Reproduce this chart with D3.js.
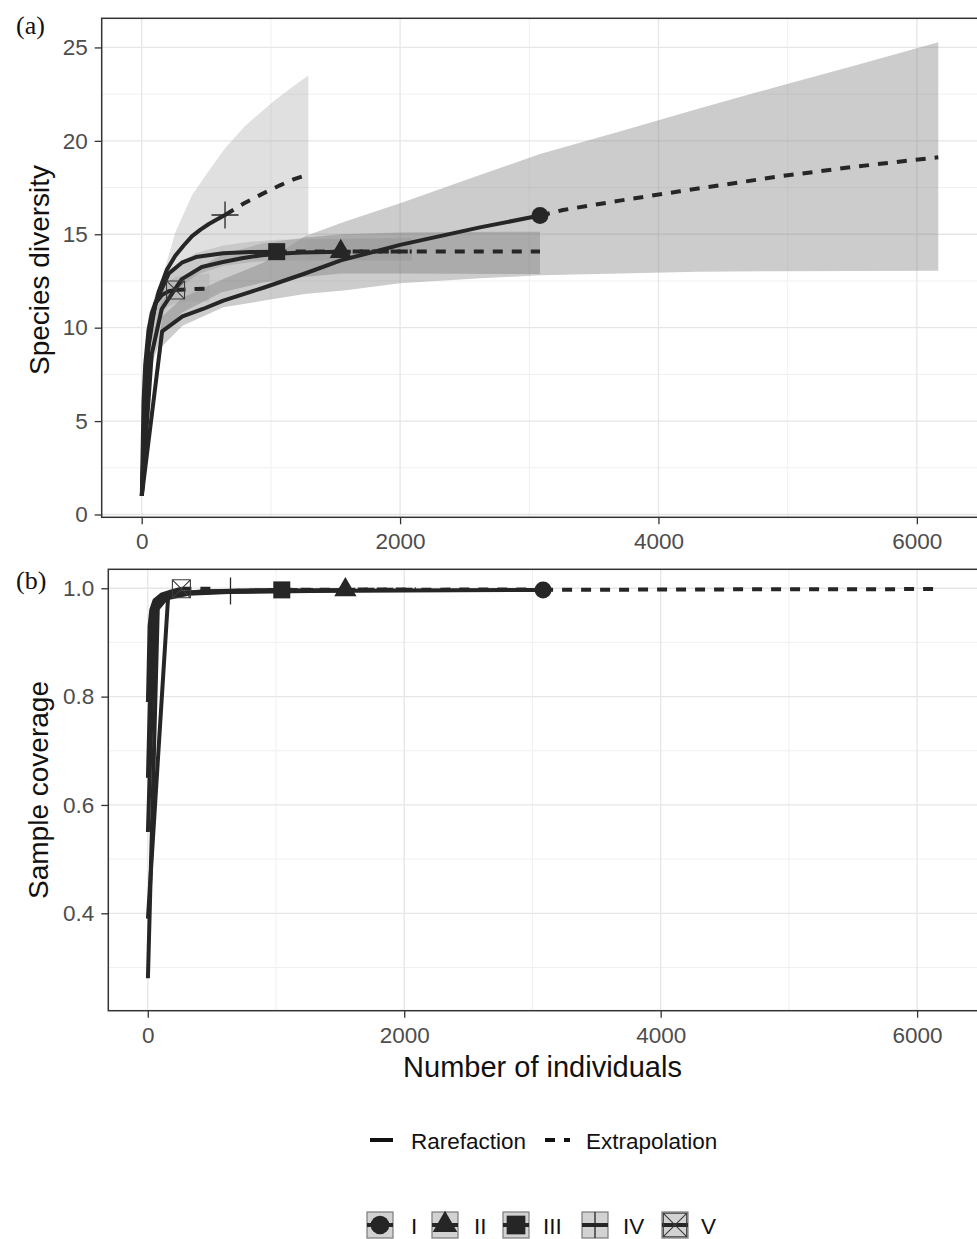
<!DOCTYPE html>
<html>
<head>
<meta charset="utf-8">
<script src="https://cdn.jsdelivr.net/npm/d3@7"></script>
<style>
  body { margin: 0; background: #fff; }
  svg { display: block; }
  text { font-family: "Liberation Sans", Arial, sans-serif; }
</style>
</head>
<body>
<svg id="chart" width="977" height="1239"></svg>
<script>
// ---- Assemblages -------------------------------------------------------
const assemblages = ["I", "II", "III", "IV", "V"];
const sampleSize  = [3083, 1541, 1045, 645, 262];
const observedS   = [16.0, 14.07, 14.07, 16.03, 12.02];
const observedC   = [0.997, 0.997, 0.997, 0.995, 0.999];

// ---- Species diversity: rarefaction [n, S] ----------------------------
const divRareI   = [[1,1],[158,9.8],[316,10.6],[474,11.0],[632,11.45],[948,12.15],[1264,12.9],[1541,13.6],[2000,14.43],[2618,15.37],[3083,16.0]];
const divRareII  = [[1,1],[78,8.6],[155,11.0],[310,12.6],[465,13.25],[620,13.5],[775,13.72],[930,13.88],[1085,13.97],[1240,14.02],[1541,14.07]];
const divRareIII = [[1,1],[53,9.0],[105,11.3],[210,12.9],[315,13.5],[420,13.78],[630,13.98],[840,14.05],[1045,14.07]];
const divRareIV  = [[1,1],[33,7.5],[65,10.0],[130,11.9],[195,13.1],[260,13.85],[325,14.4],[390,14.9],[455,15.25],[520,15.55],[585,15.8],[645,16.03]];
const divRareV   = [[1,1],[14,6.0],[27,8.0],[53,9.9],[79,10.8],[105,11.3],[157,11.75],[209,11.95],[262,12.02]];

// ---- Species diversity: extrapolation [n, S] --------------------------
const divExtI   = [[3083,16.0],[3261,16.3],[3700,16.8],[4166,17.3],[4917,18.08],[5500,18.6],[6166,19.12]];
const divExtII  = [[1541,14.07],[3083,14.08]];
const divExtIII = [[1045,14.07],[2090,14.08]];
const divExtIV  = [[645,16.03],[790,16.65],[930,17.15],[1070,17.62],[1180,17.95],[1290,18.2]];
const divExtV   = [[262,12.02],[524,12.1]];

// ---- Species diversity: 95% band [n, lower, upper] --------------------
const bandI   = [[1,1,1],[158,9.0,10.6],[316,10.1,11.6],[632,11.1,12.6],[948,11.45,13.5],[1264,11.8,14.9],[1580,12.0,15.7],[2000,12.38,16.66],[2618,12.64,18.17],[3083,12.8,19.3],[3700,12.9,20.5],[4300,13.0,21.7],[4917,13.02,22.9],[5500,13.04,24.0],[6166,13.05,25.28]];
const bandII  = [[1,1,1],[78,8.0,9.6],[155,9.6,11.4],[310,10.8,12.7],[620,11.9,13.9],[930,12.4,14.5],[1240,12.7,14.8],[1541,12.9,15.0],[2000,12.9,15.1],[2500,12.88,15.12],[3083,12.87,15.14]];
const bandIII = [[1,1,1],[53,8.5,10.0],[105,10.3,11.8],[210,11.6,13.1],[420,12.8,14.0],[630,13.3,14.4],[840,13.5,14.6],[1045,13.6,14.7],[1400,13.6,14.75],[1750,13.6,14.78],[2090,13.6,14.8]];
const bandIV  = [[1,1,1],[33,6.5,8.0],[65,8.5,10.2],[130,10.3,12.0],[260,11.9,15.1],[390,12.7,17.1],[520,13.2,18.4],[645,13.5,19.6],[800,13.6,20.8],[1000,13.6,22.0],[1150,13.6,22.8],[1290,13.5,23.5]];
const bandV   = [[1,1,1],[14,5.5,6.8],[27,7.5,8.8],[54,9.5,10.7],[108,10.6,11.8],[160,11.0,12.3],[262,11.3,12.7],[360,11.4,12.8],[440,11.4,12.85],[524,11.4,12.9]];

// ---- Sample coverage: rarefaction / extrapolation [n, C] --------------
const covRareI   = [[1,0.39],[158,0.982],[316,0.990],[632,0.993],[1264,0.995],[2000,0.996],[3083,0.997]];
const covRareII  = [[1,0.28],[78,0.962],[155,0.984],[310,0.991],[620,0.994],[1085,0.996],[1541,0.997]];
const covRareIII = [[1,0.55],[53,0.955],[105,0.98],[210,0.99],[420,0.994],[735,0.996],[1045,0.997]];
const covRareIV  = [[1,0.65],[33,0.95],[65,0.975],[130,0.986],[260,0.991],[455,0.994],[645,0.995]];
const covRareV   = [[1,0.79],[14,0.93],[27,0.96],[53,0.978],[105,0.988],[183,0.994],[262,0.999]];
const covExtI    = [[3083,0.997],[4600,0.998],[6166,0.9985]];
const covExtII   = [[1541,0.997],[3083,0.998]];
const covExtIII  = [[1045,0.997],[2090,0.998]];
const covExtIV   = [[645,0.995],[1290,0.997]];
const covExtV    = [[262,0.999],[524,0.999]];

// ---- Axis ticks -------------------------------------------------------
const xTicks      = [0, 2000, 4000, 6000];
const xMinorTicks = [1000, 3000, 5000];
const divTicks    = [0, 5, 10, 15, 20, 25];
const divMinor    = [2.5, 7.5, 12.5, 17.5, 22.5];
const covTicks    = [0.4, 0.6, 0.8, 1.0];
const covMinor    = [0.3, 0.5, 0.7, 0.9];
const lineTypes   = ["Rarefaction", "Extrapolation"];

const divRare = [divRareI, divRareII, divRareIII, divRareIV, divRareV];
const divExt  = [divExtI, divExtII, divExtIII, divExtIV, divExtV];
const bands   = [bandI, bandII, bandIII, bandIV, bandV];
const covRare = [covRareI, covRareII, covRareIII, covRareIV, covRareV];
const covExt  = [covExtI, covExtII, covExtIII, covExtIV, covExtV];

// ---- Styling ----------------------------------------------------------
const lineColor = "#262626";
const bandFill  = ["#808080", "#6e6e6e", "#8c8c8c", "#a6a6a6", "#9a9a9a"];
const bandAlpha = [0.40, 0.35, 0.30, 0.35, 0.30];
const dash = "10,9";
const shapes = ["circle", "triangle", "square", "plus", "squarecross"];

const svg = d3.select("#chart");

// marker drawing shared by panels and legend
function drawMarker(g, shape, cx, cy, scale = 1) {
  if (shape === "circle") {
    g.append("circle").attr("cx", cx).attr("cy", cy).attr("r", 8.5 * scale).attr("fill", lineColor);
  } else if (shape === "triangle") {
    g.append("path").attr("d", d3.symbol(d3.symbolTriangle, 215 * scale * scale)())
      .attr("transform", `translate(${cx},${cy})`).attr("fill", lineColor);
  } else if (shape === "square") {
    const s = 17 * scale;
    g.append("rect").attr("x", cx - s / 2).attr("y", cy - s / 2).attr("width", s).attr("height", s).attr("fill", lineColor);
  } else if (shape === "plus") {
    const h = 13.5 * scale;
    g.append("path").attr("d", `M${cx - h},${cy}H${cx + h}M${cx},${cy - h}V${cy + h}`)
      .attr("stroke", lineColor).attr("stroke-width", 1.3).attr("fill", "none");
  } else {
    const h = 9 * scale;
    g.append("path")
      .attr("d", `M${cx - h},${cy - h}H${cx + h}V${cy + h}H${cx - h}Z M${cx - h},${cy - h}L${cx + h},${cy + h}M${cx + h},${cy - h}L${cx - h},${cy + h}`)
      .attr("stroke", "#3a3a3a").attr("stroke-width", 1.1).attr("fill", "none");
  }
}

function panel(opts) {
  const { x, y, left, top, right, bottom, yTicks, yMinor, yFmt, clipId } = opts;
  const g = svg.append("g");

  // grid
  const grid = g.append("g");
  xMinorTicks.forEach(v => grid.append("line").attr("x1", x(v)).attr("x2", x(v)).attr("y1", top).attr("y2", bottom)
    .attr("stroke", "#f0f0f0").attr("stroke-width", 1));
  yMinor.forEach(v => grid.append("line").attr("x1", left).attr("x2", right).attr("y1", y(v)).attr("y2", y(v))
    .attr("stroke", "#f0f0f0").attr("stroke-width", 1));
  xTicks.forEach(v => grid.append("line").attr("x1", x(v)).attr("x2", x(v)).attr("y1", top).attr("y2", bottom)
    .attr("stroke", "#e6e6e6").attr("stroke-width", 1.3));
  yTicks.forEach(v => grid.append("line").attr("x1", left).attr("x2", right).attr("y1", y(v)).attr("y2", y(v))
    .attr("stroke", "#e6e6e6").attr("stroke-width", 1.3));

  svg.append("clipPath").attr("id", clipId).append("rect")
    .attr("x", left).attr("y", top).attr("width", right - left).attr("height", bottom - top);
  const plot = g.append("g").attr("clip-path", `url(#${clipId})`);

  // axes
  const ya = d3.axisLeft(y).tickValues(yTicks).tickSize(7).tickPadding(7).tickFormat(yFmt);
  const yg = g.append("g").attr("transform", `translate(${left},0)`).call(ya);
  const xa = d3.axisBottom(x).tickValues(xTicks).tickSize(7).tickPadding(9).tickFormat(d3.format("d"));
  const xg = g.append("g").attr("transform", `translate(0,${bottom})`).call(xa);
  [yg, xg].forEach(a => {
    a.select(".domain").remove();
    a.selectAll(".tick line").attr("stroke", "#333").attr("stroke-width", 1.3);
    a.selectAll(".tick text").attr("fill", "#4d4d4d").style("font-size", "22.5px")
      .style("font-family", '"Liberation Sans", Arial, sans-serif');
  });

  // border
  g.append("rect").attr("x", left).attr("y", top).attr("width", right - left).attr("height", bottom - top)
    .attr("fill", "none").attr("stroke", "#333").attr("stroke-width", 1.5);
  return plot;
}

// ---- Panel (a): species diversity --------------------------------------
const xA = d3.scaleLinear().domain([-309.6, 6471]).range([101.7, 977.7]);
const yA = d3.scaleLinear().domain([-0.15, 26.56]).range([517.3, 18.3]);
const plotA = panel({ x: xA, y: yA, left: 101.7, top: 18.3, right: 978.5, bottom: 517.3,
  yTicks: divTicks, yMinor: divMinor, yFmt: d3.format("d"), clipId: "clipA" });

const areaA = d3.area().x(d => xA(d[0])).y0(d => yA(d[1])).y1(d => yA(d[2]));
bands.forEach((b, i) => plotA.append("path").attr("d", areaA(b))
  .attr("fill", bandFill[i]).attr("fill-opacity", bandAlpha[i]));

const lineA = d3.line().x(d => xA(d[0])).y(d => yA(d[1]));
assemblages.forEach((a, i) => {
  plotA.append("path").attr("d", lineA(divRare[i])).attr("fill", "none")
    .attr("stroke", lineColor).attr("stroke-width", 4).attr("stroke-linejoin", "round");
  plotA.append("path").attr("d", lineA(divExt[i])).attr("fill", "none")
    .attr("stroke", lineColor).attr("stroke-width", 4).attr("stroke-dasharray", dash);
});
assemblages.forEach((a, i) => drawMarker(plotA, shapes[i], xA(sampleSize[i]), yA(observedS[i])));

// ---- Panel (b): sample coverage ----------------------------------------
const xB = d3.scaleLinear().domain([-308, 6471]).range([108.3, 977.5]);
const yB = d3.scaleLinear().domain([0.2202, 1.035]).range([1010.7, 569.3]);
const plotB = panel({ x: xB, y: yB, left: 108.3, top: 569.3, right: 978.5, bottom: 1010.7,
  yTicks: covTicks, yMinor: covMinor, yFmt: d3.format(".1f"), clipId: "clipB" });

const lineB = d3.line().x(d => xB(d[0])).y(d => yB(d[1]));
assemblages.forEach((a, i) => {
  plotB.append("path").attr("d", lineB(covRare[i])).attr("fill", "none")
    .attr("stroke", lineColor).attr("stroke-width", 4).attr("stroke-linejoin", "round");
  plotB.append("path").attr("d", lineB(covExt[i])).attr("fill", "none")
    .attr("stroke", lineColor).attr("stroke-width", 4).attr("stroke-dasharray", dash);
});
assemblages.forEach((a, i) => drawMarker(plotB, shapes[i], xB(sampleSize[i]), yB(observedC[i])));

// ---- Titles --------------------------------------------------------------
svg.append("text").attr("x", 16).attr("y", 34).text("(a)")
  .style("font-family", '"Liberation Serif", "Times New Roman", serif').style("font-size", "26px").attr("fill", "#111");
svg.append("text").attr("x", 16).attr("y", 589).text("(b)")
  .style("font-family", '"Liberation Serif", "Times New Roman", serif').style("font-size", "26px").attr("fill", "#111");

svg.append("text").attr("transform", "translate(49,270) rotate(-90)").attr("text-anchor", "middle")
  .style("font-size", "28px").attr("fill", "#111").text("Species diversity");
svg.append("text").attr("transform", "translate(48,790) rotate(-90)").attr("text-anchor", "middle")
  .style("font-size", "28px").attr("fill", "#111").text("Sample coverage");
svg.append("text").attr("x", 542.5).attr("y", 1077).attr("text-anchor", "middle")
  .style("font-size", "29px").attr("fill", "#111").text("Number of individuals");

// ---- Legend: line type ----------------------------------------------------
const leg1 = svg.append("g");
leg1.append("line").attr("x1", 370).attr("x2", 393).attr("y1", 1140).attr("y2", 1140)
  .attr("stroke", "#111").attr("stroke-width", 4);
leg1.append("text").attr("x", 411).attr("y", 1149).style("font-size", "22.5px").attr("fill", "#111").text(lineTypes[0]);
leg1.append("line").attr("x1", 545).attr("x2", 570).attr("y1", 1140).attr("y2", 1140)
  .attr("stroke", "#111").attr("stroke-width", 4).attr("stroke-dasharray", dash);
leg1.append("text").attr("x", 586).attr("y", 1149).style("font-size", "22.5px").attr("fill", "#111").text(lineTypes[1]);

// ---- Legend: assemblages ----------------------------------------------------
const keyX  = [367, 432, 503, 582, 662];
const labX  = [411, 474, 543, 623, 701];
const leg2 = svg.append("g");
assemblages.forEach((a, i) => {
  const kx = keyX[i], ky = 1212, s = 26;
  leg2.append("rect").attr("x", kx).attr("y", ky).attr("width", s).attr("height", s)
    .attr("fill", "#d2d2d2").attr("stroke", "#7a7a7a").attr("stroke-width", 1.2);
  leg2.append("line").attr("x1", kx).attr("x2", kx + s).attr("y1", ky + s / 2).attr("y2", ky + s / 2)
    .attr("stroke", lineColor).attr("stroke-width", 4);
  drawMarker(leg2, shapes[i], kx + s / 2, ky + s / 2, shapes[i] === "plus" ? 0.96 : shapes[i] === "squarecross" ? 1.3 : 1.1);
  leg2.append("text").attr("x", labX[i]).attr("y", 1234).style("font-size", "22.5px").attr("fill", "#111").text(a);
});
</script>
</body>
</html>
